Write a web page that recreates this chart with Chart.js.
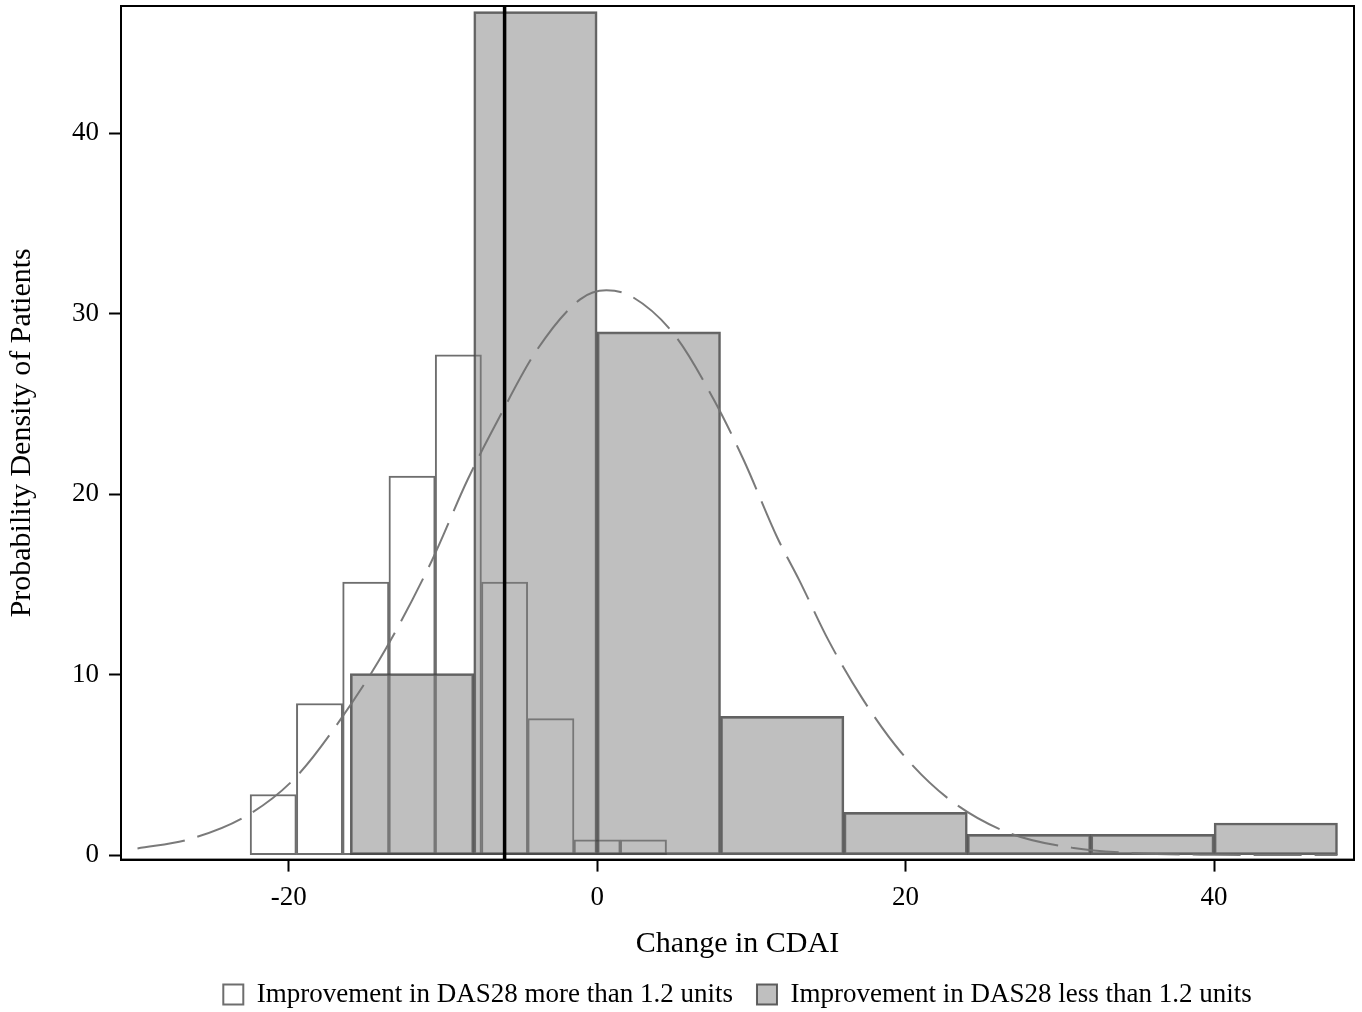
<!DOCTYPE html>
<html>
<head>
<meta charset="utf-8">
<script src="https://cdn.jsdelivr.net/npm/chart.js@4/dist/chart.umd.min.js"></script>
<style>
  html, body { margin: 0; padding: 0; background: #fff; }
  #wrap { width: 1362px; height: 1012px; }
</style>
</head>
<body>
<div id="wrap"><canvas id="cdai-hist"></canvas></div>
<script>
// bins of 3 units, "more than 1.2" group
const moreCenters = [-21, -18, -15, -12, -9, -6, -3, 0, 3]
const moreDensity = [3.36, 8.4, 15.13, 21.01, 27.73, 15.13, 7.56, 0.84, 0.84]

// bins of 8 units, "less than 1.2" group
const lessCenters = [-12, -4, 4, 12, 20, 28, 36, 44]
const lessDensity = [10.06, 46.75, 29.0, 7.69, 2.37, 1.15, 1.15, 1.78]

// dashed normal curve
const curveX = [-29.8, -26.4, -22.7, -19.6, -16.6, -13.7, -10.75, -8.4, -6.5, -3.9, -1.1, 0.6, 2.15, 5.0, 7.56, 9.5, 11.7, 13.1, 15.0, 17.2, 19.7, 22.8, 26.6, 30.9, 35, 40, 48]
const curveY = [0.37, 0.89, 2.19, 4.26, 7.56, 11.44, 16.26, 20.8, 24.0, 28.0, 30.8, 31.3, 31.0, 28.85, 25.25, 21.9, 17.56, 15.24, 11.9, 8.67, 5.7, 3.11, 1.26, 0.39, 0.1, 0.02, 0]

const medianLine = -6

const xTicks = [-20, 0, 20, 40]
const yTicks = [0, 10, 20, 30, 40]

const xMin = -30.87
const xMax = 49.07
const yMin = -0.25
const yMax = 47.06

const legendLabels = [
  'Improvement in DAS28 more than 1.2 units',
  'Improvement in DAS28 less than 1.2 units',
]

const serif = 'Liberation Serif'

// box round the plot area
const frame = {
  id: 'frame',
  afterDatasetsDraw(chart) {
    const { ctx, chartArea: a } = chart
    ctx.save()
    ctx.strokeStyle = '#000'
    ctx.lineWidth = 2
    ctx.strokeRect(a.left, a.top, a.right - a.left, a.bottom - a.top)
    ctx.restore()
  },
}

const tickMarks = {
  drawOnChartArea: false,
  drawTicks: true,
  offset: false,
  tickLength: 12,
  tickWidth: 2,
  tickColor: '#000',
}

const ctx = document.getElementById('cdai-hist').getContext('2d')
new Chart(ctx, {
  data: {
    datasets: [
      {
        type: 'bar',
        label: legendLabels[0],
        data: moreCenters.map((x, i) => ({ x, y: moreDensity[i] })),
        xAxisID: 'x2',
        backgroundColor: '#ffffff',
        borderColor: '#6e6e6e',
        borderWidth: 2,
        borderSkipped: false,
        grouped: false,
        barPercentage: 1,
        categoryPercentage: 1,
        order: 3,
      },
      {
        type: 'bar',
        label: legendLabels[1],
        data: lessCenters.map((x, i) => ({ x, y: lessDensity[i] })),
        xAxisID: 'x',
        backgroundColor: 'rgba(128,128,128,0.5)',
        borderColor: 'rgba(70,70,70,0.85)',
        borderWidth: 2,
        borderSkipped: false,
        grouped: false,
        barPercentage: 1,
        categoryPercentage: 1,
        order: 2,
      },
      {
        type: 'line',
        label: 'curve',
        data: curveX.map((x, i) => ({ x, y: curveY[i] })),
        xAxisID: 'x',
        borderColor: 'rgba(115,115,115,0.95)',
        borderWidth: 2,
        borderDash: [48, 13],
        pointRadius: 0,
        cubicInterpolationMode: 'monotone',
        fill: false,
        order: 1,
      },
      {
        type: 'line',
        label: 'median',
        data: [{ x: medianLine, y: yMin }, { x: medianLine, y: yMax }],
        xAxisID: 'x',
        borderColor: '#000',
        borderWidth: 3.5,
        pointRadius: 0,
        order: 0,
      },
    ],
  },
  options: {
    responsive: true,
    maintainAspectRatio: false,
    animation: false,
    layout: { padding: { top: 6, right: 8, left: 0, bottom: -6 } },
    plugins: {
      tooltip: { enabled: false },
      legend: {
        position: 'bottom',
        fullSize: false,
        labels: {
          font: { family: serif, size: 27 },
          color: '#000',
          boxWidth: 20,
          boxHeight: 20,
          padding: 24,
          filter: (item) => item.datasetIndex < 2,
          sort: (a, b) => a.datasetIndex - b.datasetIndex,
        },
      },
    },
    scales: {
      x: {
        type: 'linear',
        position: 'bottom',
        offset: false,
        min: xMin,
        max: xMax,
        afterBuildTicks: (scale) => {
          scale.ticks = xTicks.map((v) => ({ value: v }))
        },
        ticks: {
          font: { family: serif, size: 27 },
          color: '#000',
          padding: 10,
        },
        grid: tickMarks,
        border: { display: true, color: '#000', width: 2 },
        title: {
          display: true,
          text: 'Change in CDAI',
          font: { family: serif, size: 30 },
          color: '#000',
          padding: { top: 2, bottom: -5 },
        },
      },
      x2: {
        type: 'linear',
        position: 'bottom',
        display: false,
        offset: false,
        min: xMin,
        max: xMax,
        afterBuildTicks: (scale) => {
          scale.ticks = xTicks.map((v) => ({ value: v }))
        },
      },
      y: {
        type: 'linear',
        min: yMin,
        max: yMax,
        afterBuildTicks: (scale) => {
          scale.ticks = yTicks.map((v) => ({ value: v }))
        },
        afterFit: (scale) => {
          scale.paddingTop = 0
        },
        ticks: {
          font: { family: serif, size: 27 },
          color: '#000',
          padding: 10,
        },
        grid: tickMarks,
        border: { display: true, color: '#000', width: 2 },
        title: {
          display: true,
          text: 'Probability Density of Patients',
          font: { family: serif, size: 30 },
          color: '#000',
          padding: { top: 4, bottom: 22 },
        },
      },
    },
  },
  plugins: [frame],
})
</script>
</body>
</html>
